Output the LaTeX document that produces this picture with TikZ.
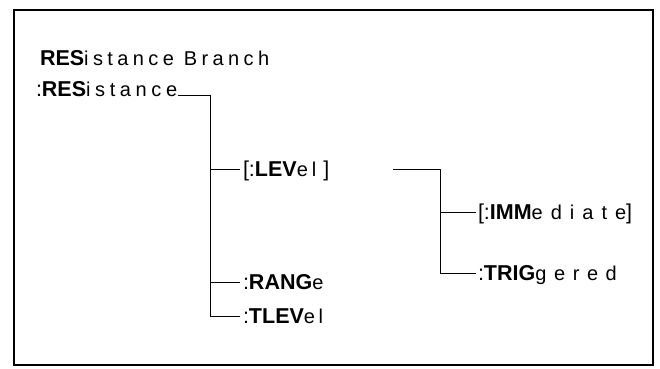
\documentclass[tikz,border=0pt]{standalone}
\usepackage{fontspec}
\setmainfont{Liberation Sans}
\newfontfamily\lowfont{Liberation Sans}
\usetikzlibrary{calc}
\def\kw#1#2#3{{\fontsize{21.5}{24}\selectfont\bfseries #1}{\fontsize{20}{23}\lowfont\addfontfeature{LetterSpace=#3}#2}}
\def\pun#1{{\fontsize{21.5}{24}\selectfont #1}}

\begin{document}
\begin{tikzpicture}[x=1pt, y=-1pt]
	%%%%% START %%%%%
	\useasboundingbox (0, 0) rectangle (660, 368);
	\tikzset{lbl/.style={anchor=base west, inner sep=0pt, outer sep=0pt}}
	
	\draw[line width=2pt] (14, 10) rectangle (653, 365);
	
	\node[lbl] (title) at (40, 65) {\kw{RES}{istance Branch}{22}};
	\node[lbl] (res) at (36, 96) {\pun{:}\kw{RES}{istance}{23}};
	
	\node[lbl] (lev) at (243, 176) {\pun{[:}\kw{LEV}{el}{20}\hspace{7pt}\pun{]}};
	\node[lbl] (rang) at (243, 289) {\pun{:}\kw{RANG}{e}{45}};
	\node[lbl] (tlev) at (243, 323) {\pun{:}\kw{TLEV}{el}{18}};
	
	\node[lbl] (imm) at (478, 219) {\pun{[:}\kw{IMM}{ediate}{40}\pun{]}};
	\node[lbl] (trig) at (478, 280) {\pun{:}\kw{TRIG}{gered}{38}};
	
	% first branch
	\coordinate (trunkA) at (210, 95);
	\draw[line width=0.8pt] ([shift={(1,-1)}]res.base east) -- (trunkA) |- ([shift={(-3,-7)}]tlev.base west);
	\draw[line width=0.8pt] ([yshift=7pt]trunkA |- lev.base west) -- ([shift={(-3,-7)}]lev.base west);
	\draw[line width=0.8pt] ([yshift=7pt]trunkA |- rang.base west) -- ([shift={(-3,-7)}]rang.base west);
	
	% second branch
	\coordinate (trunkB) at (440, 169);
	\draw[line width=0.8pt] (393, 169) -- (trunkB) |- ([shift={(-2,-7)}]trig.base west);
	\draw[line width=0.8pt] ([yshift=7pt]trunkB |- imm.base west) -- ([shift={(-2,-7)}]imm.base west);
	%%%%% END %%%%%
\end{tikzpicture}
\end{document}
